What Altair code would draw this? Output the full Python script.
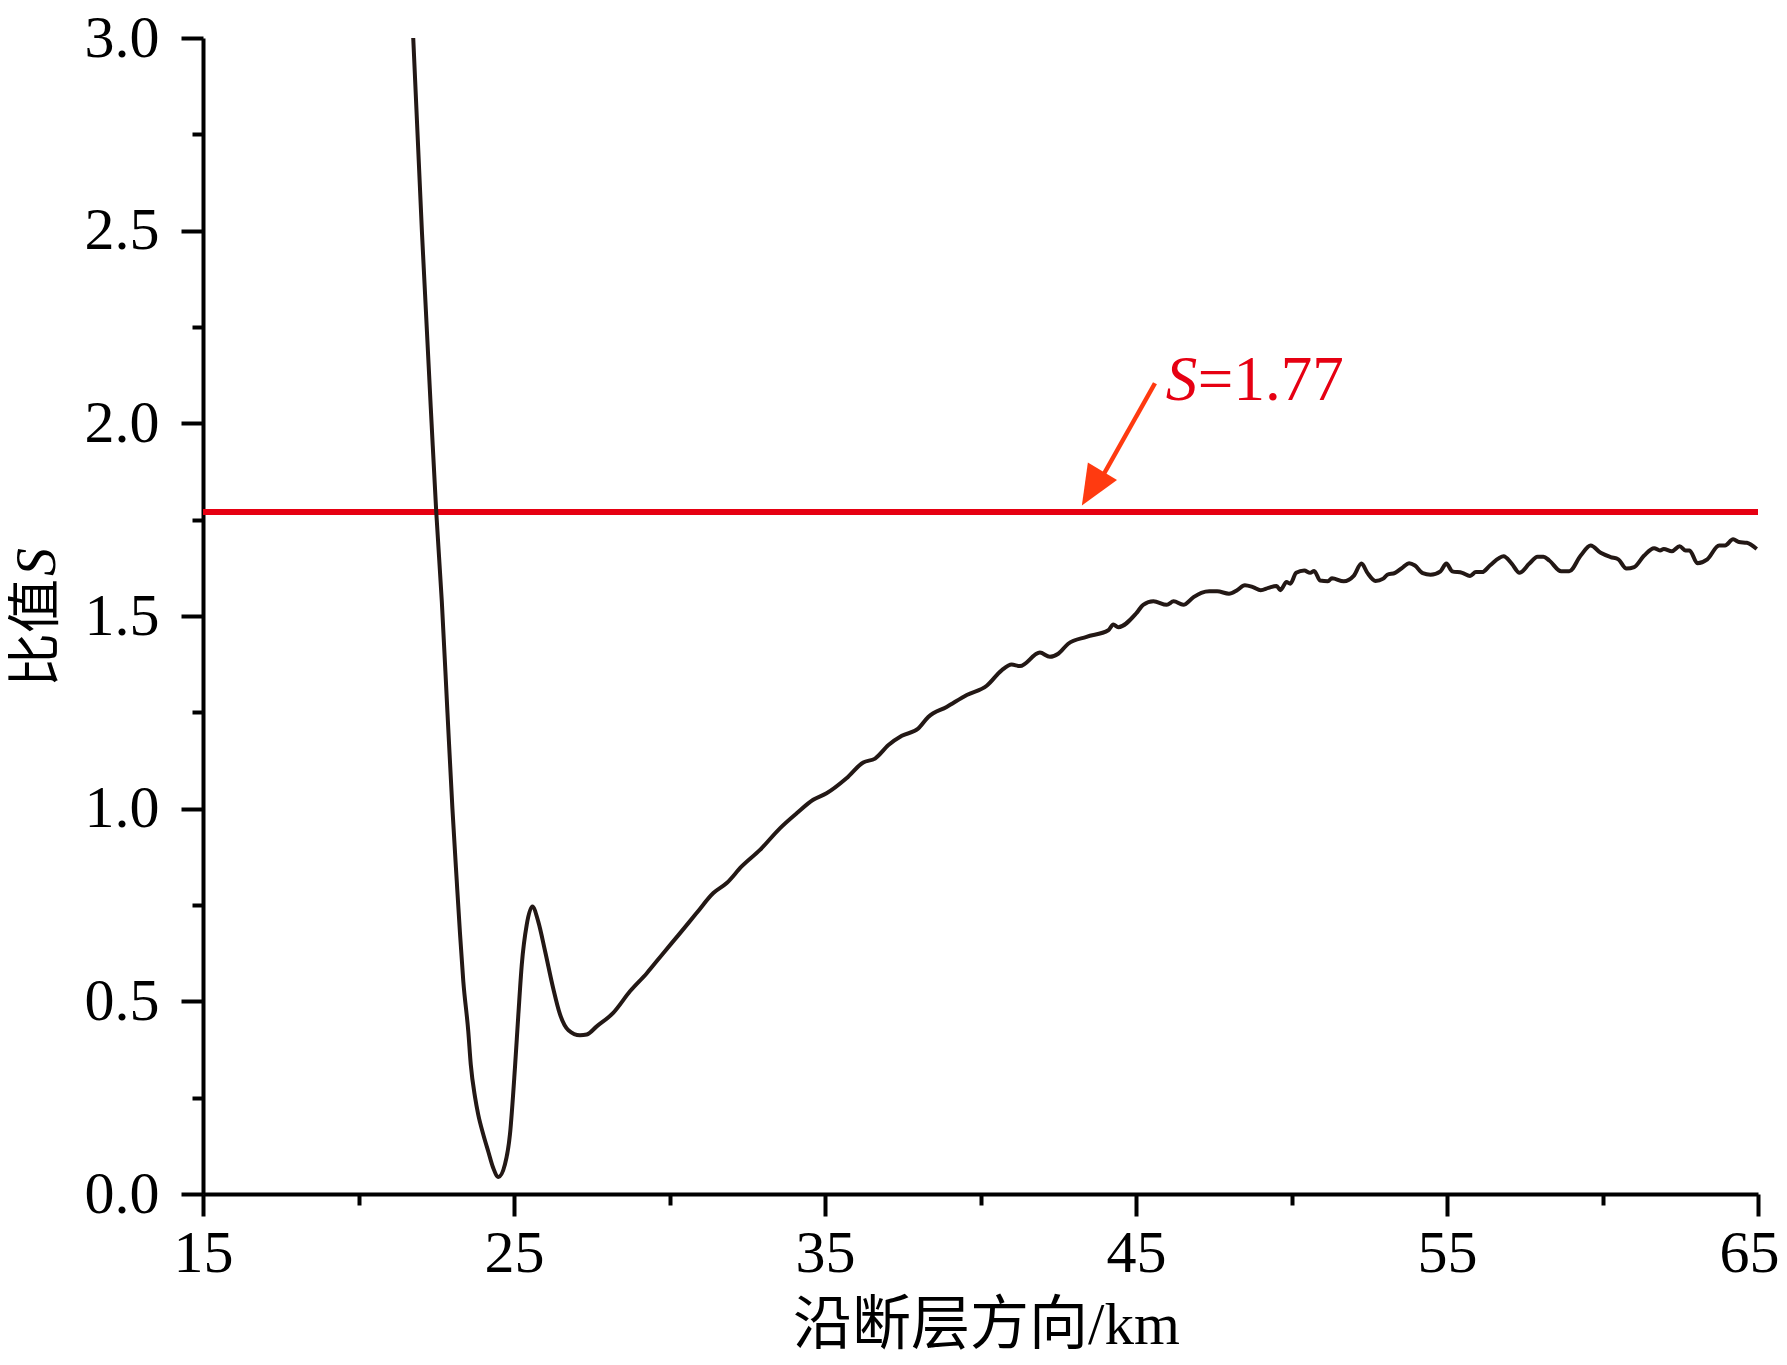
import altair as alt
import pandas as pd

# ---- data ----
km = [21.76, 22.04, 22.35, 22.50, 22.68, 22.86, 23.02, 23.16, 23.26, 23.37, 23.53, 23.61,
      23.75, 23.85, 24.01, 24.17, 24.33, 24.50, 24.71, 24.87, 25.03, 25.14, 25.25, 25.41,
      25.59, 25.78, 26.00, 26.26, 26.48, 26.75, 27.12, 27.34, 27.66, 28.19, 28.73, 29.27,
      29.80, 30.34, 30.87, 31.41, 31.84, 32.32, 32.91, 33.55, 34.09, 34.62, 35.05, 35.69,
      36.23, 36.61, 37.04, 37.47, 38.00, 38.32, 38.91, 39.56, 40.20, 40.68, 41.00, 41.27,
      41.91, 42.23, 42.50, 42.82, 43.41, 44.11, 44.27, 44.43, 45.02, 45.23, 45.56, 45.99,
      46.21, 46.52, 46.85, 47.10, 47.36, 47.61, 47.99, 48.25, 48.50, 48.76, 49.01, 49.26,
      49.52, 49.64, 49.84, 49.96, 50.15, 50.41, 50.60, 50.73, 50.92, 51.17, 51.30, 51.68,
      52.00, 52.25, 52.44, 52.70, 52.95, 53.08, 53.33, 53.59, 53.78, 53.97, 54.22, 54.47,
      54.79, 54.98, 55.17, 55.49, 55.74, 55.93, 56.13, 56.38, 56.82, 57.08, 57.33, 57.65,
      57.91, 58.10, 58.29, 58.67, 58.93, 59.30, 59.62, 59.94, 60.26, 60.51, 60.77, 61.02,
      61.34, 61.66, 61.85, 61.97, 62.23, 62.48, 62.67, 62.80, 63.05, 63.37, 63.75, 63.94,
      64.20, 64.39, 64.64, 64.96]
ratio = [3.000, 2.496, 2.000, 1.770, 1.536, 1.250, 1.000, 0.811, 0.681, 0.552, 0.422, 0.336,
         0.250, 0.206, 0.155, 0.111, 0.068, 0.044, 0.077, 0.155, 0.327, 0.466, 0.595, 0.699,
         0.746, 0.707, 0.630, 0.534, 0.466, 0.425, 0.412, 0.414, 0.435, 0.470, 0.526, 0.573,
         0.625, 0.677, 0.729, 0.781, 0.807, 0.850, 0.893, 0.949, 0.988, 1.023, 1.040, 1.079,
         1.120, 1.130, 1.165, 1.189, 1.208, 1.238, 1.264, 1.295, 1.319, 1.359, 1.374, 1.370,
         1.405, 1.394, 1.402, 1.428, 1.446, 1.463, 1.478, 1.471, 1.508, 1.529, 1.538, 1.529,
         1.538, 1.529, 1.549, 1.560, 1.564, 1.564, 1.558, 1.567, 1.580, 1.575, 1.567, 1.573,
         1.578, 1.567, 1.588, 1.584, 1.612, 1.618, 1.612, 1.617, 1.592, 1.590, 1.598, 1.590,
         1.604, 1.636, 1.612, 1.591, 1.597, 1.607, 1.612, 1.627, 1.637, 1.631, 1.611, 1.607,
         1.616, 1.636, 1.616, 1.612, 1.604, 1.614, 1.614, 1.631, 1.655, 1.636, 1.612, 1.636,
         1.654, 1.654, 1.644, 1.616, 1.616, 1.657, 1.683, 1.664, 1.653, 1.647, 1.623, 1.627,
         1.657, 1.676, 1.670, 1.674, 1.668, 1.681, 1.670, 1.670, 1.637, 1.647, 1.683, 1.683,
         1.699, 1.692, 1.690, 1.674]

threshold = [1.77]
x_ticks = [15, 20, 25, 30, 35, 40, 45, 50, 55, 60, 65]
y_ticks = [0, 0.25, 0.5, 0.75, 1.0, 1.25, 1.5, 1.75, 2.0, 2.25, 2.5, 2.75, 3.0]

# annotation "S=1.77" and arrow (data coordinates)
label_pos = [45.96, 2.06]
arrow_tail = [45.61, 2.104]
arrow_base = [43.92, 1.862]
arrow_head = [43.59, 1.831]

x_title = "沿断层方向/km"
y_title_main = "比值"
y_title_var = "S"

LATIN = "Liberation Serif"
MIXED = "Liberation Serif, Noto Sans CJK SC"
RED = "#E60012"
ARROW = "#FF3A10"
INK = "#231815"

df = pd.DataFrame({"km": km, "ratio": ratio})

xscale = alt.Scale(domain=[15, 65], nice=False, zero=False)
yscale = alt.Scale(domain=[0, 3], nice=False)

x_axis = alt.Axis(
    values=x_ticks,
    labelExpr="datum.value % 10 == 5 ? datum.label : ''",
    tickSize={"condition": {"test": "datum.value % 10 == 5", "value": 22}, "value": 11},
    labelOffset={"condition": {"test": "datum.value == 65", "value": -9}, "value": 0},
    tickWidth=4, tickColor="black", domainWidth=4, domainColor="black",
    labelFont=LATIN, labelFontSize=60, labelColor="black", labelPadding=8,
    labelFlush=False, labelOverlap=False,
    grid=False, title=x_title, titleFont=MIXED, titleFontSize=59,
    titleFontWeight="normal", titleColor="black",
    titleX=783, titleY=149, titleAlign="center", titleBaseline="alphabetic",
)
y_axis = alt.Axis(
    values=y_ticks,
    labelExpr="datum.value % 0.5 == 0 ? format(datum.value, '.1f') : ''",
    tickSize={"condition": {"test": "datum.value % 0.5 == 0", "value": 22}, "value": 11},
    tickWidth=4, tickColor="black", domainWidth=4, domainColor="black",
    labelFont=LATIN, labelFontSize=60, labelColor="black", labelPadding=22,
    labelFlush=False, labelOverlap=False, labelBaseline="middle",
    grid=False, title=None,
)

line = alt.Chart(df).mark_line(color=INK, strokeWidth=4, interpolate="monotone", clip=True).encode(
    x=alt.X("km:Q", scale=xscale, axis=x_axis),
    y=alt.Y("ratio:Q", scale=yscale, axis=y_axis),
)

rule = alt.Chart(pd.DataFrame({"s": threshold})).mark_rule(color=RED, strokeWidth=6).encode(
    y=alt.Y("s:Q", scale=yscale)
)

arrow_df = pd.DataFrame({"x": [arrow_tail[0]], "y": [arrow_tail[1]],
                         "x2": [arrow_base[0]], "y2": [arrow_base[1]]})
shaft = alt.Chart(arrow_df).mark_rule(color=ARROW, strokeWidth=4.5).encode(
    x=alt.X("x:Q", scale=xscale), y=alt.Y("y:Q", scale=yscale),
    x2="x2:Q", y2="y2:Q",
)
head = alt.Chart(pd.DataFrame({"x": [arrow_head[0]], "y": [arrow_head[1]]})).mark_point(
    shape="M0,1 L-0.85,-1 L0.85,-1 Z", size=1600, filled=True, color=ARROW,
    opacity=1, angle=31,
).encode(x=alt.X("x:Q", scale=xscale), y=alt.Y("y:Q", scale=yscale))

lab_df = pd.DataFrame({"x": [label_pos[0]], "y": [label_pos[1]]})
lab_s = alt.Chart(lab_df).mark_text(
    text="S", font=LATIN, fontSize=63, fontStyle="italic", color=RED,
    align="left", baseline="alphabetic",
).encode(x=alt.X("x:Q", scale=xscale), y=alt.Y("y:Q", scale=yscale))
lab_v = alt.Chart(lab_df).mark_text(
    text="=1.77", font=LATIN, fontSize=63, color=RED,
    align="left", baseline="alphabetic", dx=32,
).encode(x=alt.X("x:Q", scale=xscale), y=alt.Y("y:Q", scale=yscale))

# y-axis title with italic S
yt_main = alt.Chart(lab_df).mark_text(
    text=y_title_main, font=MIXED, fontSize=54, color="black",
    align="left", baseline="middle", angle=270,
).encode(x=alt.value(-165), y=alt.value(649))
yt_var = alt.Chart(lab_df).mark_text(
    text=y_title_var, font=LATIN, fontSize=56, fontStyle="italic", color="black",
    align="left", baseline="middle", angle=270,
).encode(x=alt.value(-165), y=alt.value(538))

chart = alt.layer(rule, line, shaft, head, lab_s, lab_v, yt_main, yt_var).properties(
    width=1555, height=1156,
    autosize=alt.AutoSizeParams(type="none"),
    padding={"left": 195, "top": 30, "right": 21, "bottom": 165},
    background="white",
).configure_view(stroke=None)

chart.save("out.html", embed_options={"renderer": "svg", "actions": False})
